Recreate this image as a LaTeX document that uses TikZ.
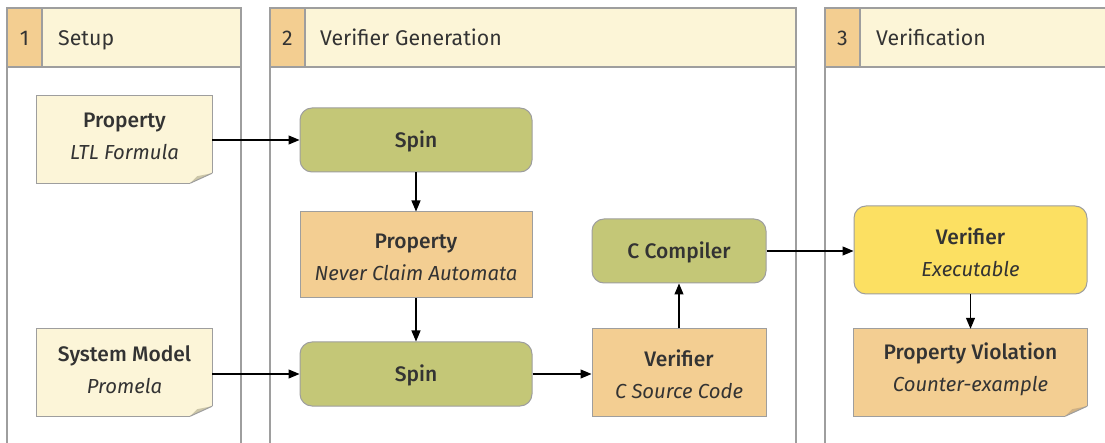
\documentclass[tikz,border=0pt]{standalone}
\usepackage{fontspec}
\setmainfont{Fira Sans}
\newfontfamily\medfont{Fira Sans Medium}
\usetikzlibrary{arrows.meta,positioning}
\definecolor{hdrfill}{HTML}{FCF5D7}
\definecolor{numfill}{HTML}{F3CE91}
\definecolor{notefill}{HTML}{FCF5D8}
\definecolor{greenfill}{HTML}{C4C777}
\definecolor{orangefill}{HTML}{F3CE92}
\definecolor{yellowfill}{HTML}{FCE062}
\definecolor{foldlight}{HTML}{CCC6A8}
\definecolor{foldorange}{HTML}{CFB184}
\definecolor{bordergray}{HTML}{9E9E9E}
\definecolor{txt}{HTML}{333333}
\tikzset{
  lane/.style={draw=bordergray, line width=1.3pt},
  hdr/.style={draw=bordergray, line width=1.3pt, fill=hdrfill},
  numbox/.style={draw=bordergray, line width=1.3pt, fill=numfill},
  hdrtext/.style={text=txt, font=\fontsize{21.3}{24}\selectfont, anchor=base west, inner sep=0pt},
  numtext/.style={text=txt, font=\fontsize{21.3}{24}\selectfont, anchor=base, inner sep=0pt},
  boxbase/.style={text=txt, font=\medfont\fontsize{21}{24}\selectfont, align=center, inner sep=0pt},
  greenbox/.style={boxbase, draw=bordergray, line width=1pt, fill=greenfill, rounded corners=12pt},
  yellowbox/.style={boxbase, draw=bordergray, line width=1pt, fill=yellowfill, rounded corners=12pt},
  orangebox/.style={boxbase, draw=bordergray, line width=1pt, fill=orangefill},
  notebox/.style={boxbase},
  conn/.style={line width=1.2pt, -{Triangle[length=11pt,width=9pt]}},
  twotext/.style={boxbase, yshift=3pt},
  twotextr/.style={boxbase, yshift=-2pt},
  onetext/.style={boxbase, yshift=-1.5pt}
}
\newcommand{\drawnote}[3]{%
  \fill[#2] (#1.north west) -- (#1.north east) -- ([yshift=10pt]#1.south east) -- ([xshift=-22pt]#1.south east) -- (#1.south west) -- cycle;
  \draw[draw=bordergray, line width=1pt] ([yshift=10pt]#1.south east) -- (#1.north east) -- (#1.north west) -- (#1.south west) -- ([xshift=-22pt]#1.south east);
  \fill[#3] ([xshift=-22pt]#1.south east) -- ([xshift=-15pt,yshift=7pt]#1.south east) -- ([yshift=10pt]#1.south east) -- cycle;
  \draw[draw=bordergray, line width=1pt] ([xshift=-22pt]#1.south east) -- ([yshift=10pt]#1.south east);
}
\newcommand{\two}[2]{#1\\[8pt]{\normalfont\itshape\fontsize{20.3}{24}\selectfont #2}}
\begin{document}
\begin{tikzpicture}[x=1pt,y=-1pt]
\useasboundingbox (0,0) rectangle (1105,443);
\clip (0,0) rectangle (1105,443);
\fill[white] (0,0) rectangle (1105,443);
% lanes
\draw[lane] (7,67) -- (7,460);
\draw[lane] (241,67) -- (241,460);
\draw[lane] (270,67) -- (270,460);
\draw[lane] (796,67) -- (796,460);
\draw[lane] (825,67) -- (825,460);
\draw[hdr] (7,8) rectangle (241,67);
\draw[numbox] (7,8) rectangle (42,67);
\draw[hdr] (270,8) rectangle (796,67);
\draw[numbox] (270,8) rectangle (305,67);
\draw[hdr] (825,8) rectangle (1115,67);
\draw[numbox] (825,8) rectangle (860,67);
\node[numtext] (n1) at (24.5,46) {1};
\node[hdrtext] (h1) at (58,46) {Setup};
\node[numtext] (n2) at (287.5,46) {2};
\node[hdrtext] (h2) at (320,46) {Verifier Generation};
\node[numtext] (n3) at (842.5,46) {3};
\node[hdrtext] (h3) at (876,46) {Verification};
% nodes
\node[notebox, minimum width=175pt, minimum height=87pt] (prop) at (124.5,139.5) {};
\drawnote{prop}{notefill}{foldlight}
\node[twotext] (propt) at (prop) {\two{Property}{LTL Formula}};
\node[notebox, minimum width=175pt, minimum height=87pt] (sys) at (124.5,372.5) {};
\drawnote{sys}{notefill}{foldlight}
\node[twotext] (syst) at (sys) {\two{System Model}{Promela}};
\node[greenbox, minimum width=232pt, minimum height=64pt] (spin1) at (416,140) {};
\node[onetext] (spin1t) at (spin1) {Spin};
\node[orangebox, minimum width=232pt, minimum height=86pt] (never) at (416,255) {};
\node[twotextr] (nevert) at (never) {\two{Property}{Never Claim Automata}};
\node[greenbox, minimum width=232pt, minimum height=64pt] (spin2) at (416,374) {};
\node[onetext] (spin2t) at (spin2) {Spin};
\node[greenbox, minimum width=174pt, minimum height=64pt] (cc) at (679,251) {};
\node[onetext] (cct) at (cc) {C Compiler};
\node[orangebox, minimum width=174pt, minimum height=87pt] (vsrc) at (679,372.5) {};
\node[twotextr] (vsrct) at (vsrc) {\two{Verifier}{C Source Code}};
\node[yellowbox, minimum width=233pt, minimum height=88pt] (vexe) at (970.5,250) {};
\node[twotextr] (vexet) at (vexe) {\two{Verifier}{Executable}};
\node[notebox, minimum width=233pt, minimum height=87pt] (viol) at (970.5,372.5) {};
\drawnote{viol}{orangefill}{foldorange}
\node[twotext] (violt) at (viol) {\two{Property Violation}{Counter-example}};
% connectors
\draw[conn] (prop.east |- spin1.west) -- (spin1.west);
\draw[conn] (spin1) -- (never);
\draw[conn] (never) -- (spin2);
\draw[conn] (sys.east |- spin2.west) -- (spin2.west);
\draw[conn] (spin2.east) -- (vsrc.west |- spin2.east);
\draw[conn] (vsrc) -- (cc);
\draw[conn] (cc.east) -- (vexe.west |- cc.east);
\draw[conn] (vexe) -- (viol);
\end{tikzpicture}
\end{document}
